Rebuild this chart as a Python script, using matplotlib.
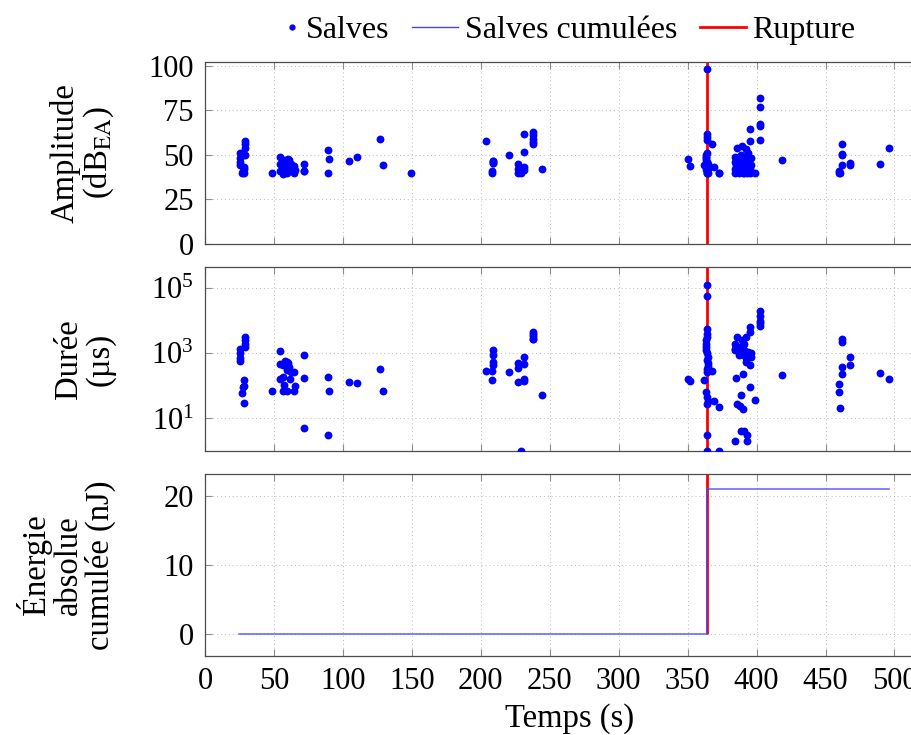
import numpy as np
import matplotlib.pyplot as plt
from matplotlib.lines import Line2D
from matplotlib.legend_handler import HandlerLine2D
from matplotlib.ticker import LogFormatterSciNotation, NullLocator

plt.rcParams['font.family'] = 'serif'
plt.rcParams['font.serif'] = ['Liberation Serif', 'DejaVu Serif']
plt.rcParams['mathtext.fontset'] = 'stix'
plt.rcParams['font.size'] = 22

# --- données ---
# salves : temps (s), amplitude (dB_EA), durée (µs)
temps = [
    25.5, 25.5, 25.5, 25.5, 28, 28.5, 27.5, 27, 28.5, 29, 29, 29, 29,
    48.4, 54.4, 54.4, 54.4, 56.3, 56.3, 57, 56.3, 58, 59.7, 59.7, 60.5, 61.2,
    61.5, 59.7, 62.1, 64.5, 64.5, 65.3, 72, 72, 72,
    89.5, 90, 89.5, 104.7, 110.5, 127.1, 129, 149.1,
    203.8, 209, 209, 209, 209, 208.4, 208.4, 220.8, 226.7, 226.7, 226.7, 229.2,
    231.6, 231.4, 231.6, 231.6, 238, 238, 238, 238, 238, 244.6,
    350, 351.7, 364, 364, 364, 364, 367.5, 364, 363.5, 363, 363, 363, 364,
    364.5, 364, 365, 365, 364, 364, 362, 363.5, 364, 364.5, 364, 364, 364,
    369, 372.5, 372.5,
    385.5, 389.2, 392.5, 395.2, 395.2, 402.5, 402.5, 402.5, 402.5, 402.5,
    384, 384.5, 385, 384, 384, 386, 386, 387, 387, 388, 388, 389, 389, 390,
    390, 391, 391, 391, 391, 392, 392, 393, 393, 394, 394, 395, 395, 396,
    396, 398.5,
    418.6, 462.2, 462.2, 462.2, 462.2, 459.8, 459.8, 460.5, 467.7, 467.7,
    489.5, 496,
]
amplitude = [
    51, 48, 46, 44, 43, 42, 41, 40, 40, 58, 56, 54, 50,
    40, 48.8, 44.7, 40.8, 44.7, 39.5, 41, 40, 47, 43.6, 41.3, 47.9, 47,
    42.4, 40, 45, 43.6, 40, 41.3, 45, 41, 41,
    52.9, 47.7, 40, 46.7, 48.8, 58.8, 44, 40,
    57.7, 46.7, 45.2, 46.7, 45.2, 41, 40, 49.7, 44.8, 42, 40, 40,
    61.8, 51.7, 43.3, 41.3, 63, 61, 59, 57, 56, 42.3,
    47.7, 43.8, 98, 61.8, 60, 58.1, 56, 51, 50, 49, 48, 47, 46,
    45, 44, 43, 42, 41, 40, 44, 42, 41, 40, 45, 43, 40,
    43, 40, 40,
    54, 55, 53, 64.7, 57.8, 82, 77, 67.4, 66, 58.3,
    49, 46, 44, 42, 40, 48, 45, 43, 40, 47, 41, 50, 44, 42,
    40, 49, 46, 43, 40, 47, 44, 41, 40, 51, 45, 42, 40, 48,
    44, 40,
    47, 55.9, 50.6, 49.7, 44, 41, 40, 40, 45.5, 44.5,
    44.7, 53.8,
]
duree = [
    1380, 1000, 710, 600, 150, 100, 90, 60, 30, 3200, 2500, 2000, 1550,
    68, 1170, 480, 165, 430, 185, 110, 72, 600, 540, 300, 510, 380,
    160, 68, 260, 260, 68, 98, 910, 175, 5,
    185, 70, 3, 135, 125, 340, 70, np.nan,
    290, 1230, 870, 560, 430, 280, 150, 260, 500, 355, 130, 1.0,
    780, 480, 165, 140, 4600, 4000, 3300, 2800, 2800, 51,
    165, 140, 123000, 57000, 5800, 4000, 280, 3200, 2500, 2000, 1600, 1260, 1000,
    800, 630, 500, 400, 320, 260, 150, 65, 46, 35, 28, 3, 1.0,
    35, 23, 1.0,
    1380, 2500, 3200, 6500, 4600, 20000, 14000, 10000, 8300, 7100,
    1380, 1260, 180, 2.1, 2000, 3200, 28, 1120, 890, 1600, 25, 4.1, 51, 230,
    20, 4.1, 2000, 1260, 870, 710, 560, 3.2, 2.1, 1120, 890, 430, 91, 800,
    1000, 38,
    210, 2800, 2200, 380, 240, 117, 63, 21, 780, 430,
    245, 160,
]

# énergie absolue cumulée (nJ)
t_energie = [25, 364, 364, 496]
e_cumulee = [0, 0, 20.9, 20.9]

t_rupture = 364


class MarqueurSeul(HandlerLine2D):
    # le point de la légende collé au texte, comme pgfplots
    def get_xdata(self, legend, xdescent, ydescent, width, height, fontsize):
        x0 = -xdescent + 0.78 * width
        x = np.array([x0, x0 + 0.1 * width])
        return x, x


fig = plt.figure(figsize=(9.12, 7.35), dpi=100)
x_droite = 935  # l'axe dépasse le bord droit de l'image (figure rognée)
left, width = 205 / 912, (x_droite - 205) / 912
ax1 = fig.add_axes([left, 1 - 244 / 735, width, 182 / 735])
ax2 = fig.add_axes([left, 1 - 451 / 735, width, 184 / 735])
ax3 = fig.add_axes([left, 1 - 656 / 735, width, 182 / 735])
axes = [ax1, ax2, ax3]

ax1.set_ylim(0, 102)
ax1.set_yticks([0, 25, 50, 75, 100])
ax2.set_yscale('log')
ax2.set_ylim(1, 4.5e5)
ax2.set_yticks([1e1, 1e3, 1e5])
ax2.yaxis.set_major_formatter(LogFormatterSciNotation())
ax2.yaxis.set_minor_locator(NullLocator())
ax3.set_ylim(-3.1, 23.1)
ax3.set_yticks([0, 10, 20])

bleu = '#0000ff'
# la rupture part de 0 (ou du bas de l'axe log) jusqu'en haut
for ax, bas in zip(axes, [0, 1, 0]):
    ax.vlines(t_rupture, bas, ax.get_ylim()[1], color='red', lw=2, zorder=2)

ax1.scatter(temps, amplitude, s=32, color=bleu, zorder=3, lw=0)
ax2.scatter(temps, duree, s=32, color=bleu, zorder=3, lw=0)
ax3.plot(t_energie, e_cumulee, color='#4444ff', lw=1.1, alpha=0.85, zorder=3)

for ax in axes:
    ax.set_xlim(0, (x_droite - 205) / 1.379)
    ax.set_xticks(np.arange(0, 501, 50))
    ax.grid(True, color='0.72', lw=0.7, ls=(0, (1, 3)))
    ax.set_axisbelow(True)
    ax.tick_params(direction='in', length=5, width=0.8, color='0.55',
                   top=True, right=True, pad=8, labelsize=22)
    for sp in ax.spines.values():
        sp.set_color('0.3')
        sp.set_linewidth(0.9)
ax1.tick_params(labelbottom=False)
ax2.tick_params(labelbottom=False)

ax1.set_ylabel('Amplitude\n(dB$_{\\mathrm{EA}}$)', linespacing=1.05, fontsize=23.5)
ax2.set_ylabel('Durée\n(µs)', linespacing=1.05, fontsize=23.5)
ax3.set_ylabel('Énergie\nabsolue\ncumulée (nJ)', linespacing=1.05, fontsize=23.5)
xlab = (116 - 205) / (x_droite - 205)
for ax in axes:
    ax.yaxis.set_label_coords(xlab, 0.5)

ax3.set_xlabel('Temps (s)', labelpad=5, fontsize=23.5)

handles = [
    Line2D([], [], ls='none', marker='o', ms=3.5, color=bleu),
    Line2D([], [], color='#4444ff', lw=1),
    Line2D([], [], color='red', lw=2),
]
fig.legend(handles, ['Salves', 'Salves cumulées', 'Rupture'], ncol=3,
           frameon=False, loc='center', bbox_to_anchor=(0.608, 0.959),
           handlelength=1.45, handletextpad=0.2, columnspacing=0.7, fontsize=23,
           handler_map={handles[0]: MarqueurSeul()})

fig.savefig('out.png', dpi=100)
